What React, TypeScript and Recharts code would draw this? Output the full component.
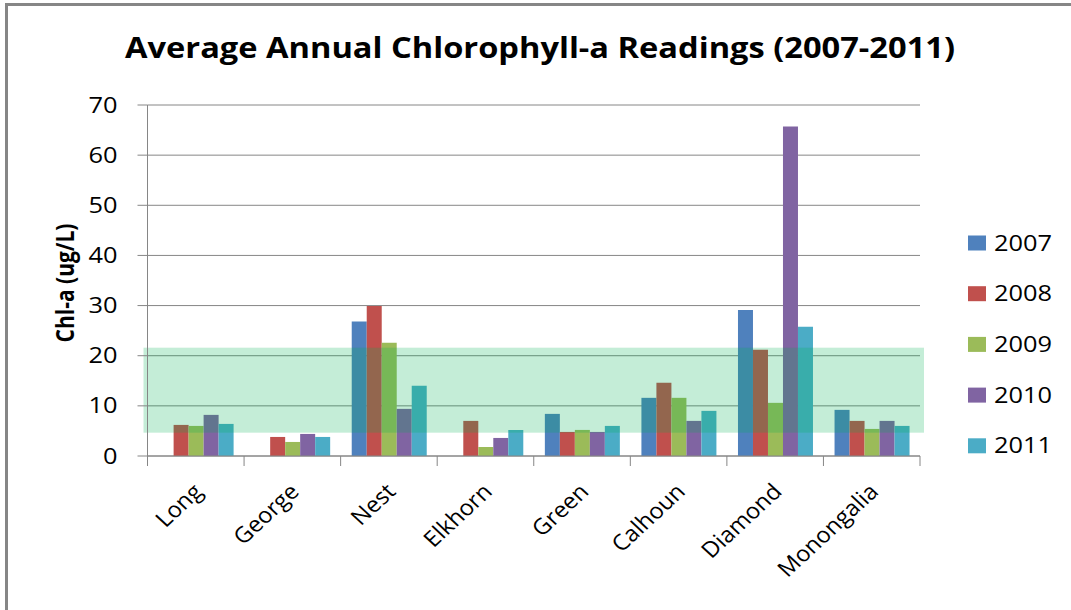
import {
  BarChart,
  Bar,
  XAxis,
  YAxis,
  CartesianGrid,
  ReferenceArea,
} from 'recharts'

const lakes = ['Long', 'George', 'Nest', 'Elkhorn', 'Green', 'Calhoun', 'Diamond', 'Monongalia']

const years = ['2007', '2008', '2009', '2010', '2011']

const chl2007 = [null, null, 26.8, null, 8.4, 11.6, 29.1, 9.2]
const chl2008 = [6.2, 3.8, 29.9, 7.0, 4.8, 14.6, 21.2, 7.0]
const chl2009 = [6.0, 2.8, 22.6, 1.8, 5.2, 11.6, 10.6, 5.4]
const chl2010 = [8.2, 4.4, 9.4, 3.6, 4.8, 7.0, 65.7, 7.0]
const chl2011 = [6.4, 3.8, 14.0, 5.2, 6.0, 9.0, 25.8, 6.0]

const yTicks = [0, 10, 20, 30, 40, 50, 60, 70]

// target range band (ug/L)
const bandLow = 4.65
const bandHigh = 21.6

const COLORS = ['#4F81BD', '#C0504D', '#9BBB59', '#8064A2', '#4BACC6']

const W = 1071
const H = 610
const PLOT_LEFT = 147.5
const PLOT_RIGHT = 920
const PLOT_TOP = 105
const PLOT_BOTTOM = 456
const X_AXIS_H = 60
const BAND = (PLOT_RIGHT - PLOT_LEFT) / lakes.length
const FONT = '"Open Sans", "DejaVu Sans", sans-serif'
const AXIS_GRAY = '#868686'
// the source image is a little stretched sideways
const STRETCH = 1.08
const DIGIT_W = 14.5

const seriesValues = [chl2007, chl2008, chl2009, chl2010, chl2011]

const chartData = lakes.map((lake, i) => {
  const row: Record<string, string | number | null> = { lake }
  years.forEach((y, s) => {
    row[y] = seriesValues[s][i]
  })
  return row
})

function LakeTick(props: any) {
  const { x, y, payload, index } = props
  const left = x - BAND / 2
  const ax = x + 8
  const ay = y + 37
  return (
    <g>
      <line x1={left} y1={y} x2={left} y2={y + 10} stroke={AXIS_GRAY} />
      {index === lakes.length - 1 && (
        <line x1={x + BAND / 2} y1={y} x2={x + BAND / 2} y2={y + 10} stroke={AXIS_GRAY} />
      )}
      <text
        x={0}
        y={0}
        textAnchor="end"
        transform={`translate(${ax}, ${ay}) scale(${STRETCH}, 1) rotate(-45)`}
        fontSize={22}
        fontFamily={FONT}
        fill="#000"
      >
        {payload.value}
      </text>
    </g>
  )
}

function ValueTick(props: any) {
  const { x, y, payload } = props
  const label = String(payload.value)
  return (
    <text
      x={x}
      y={y}
      dy="0.36em"
      textAnchor="end"
      fontSize={21}
      fontFamily={FONT}
      fill="#000"
      textLength={label.length * DIGIT_W}
      lengthAdjust="spacingAndGlyphs"
    >
      {label}
    </text>
  )
}

function Band(p: any) {
  return (
    <rect
      x={p.x - 4}
      y={p.y}
      width={p.width + 8}
      height={p.height}
      fill="#00B050"
      fillOpacity={0.23}
    />
  )
}

export default function App() {
  return (
    <div
      style={{
        position: 'fixed',
        left: 0,
        top: 0,
        width: W,
        height: H,
        overflow: 'hidden',
        background: '#fff',
      }}
    >
      {/* frame: only left and top edges are in view */}
      <div style={{ position: 'absolute', left: 5, top: 3, width: 3, height: H, background: AXIS_GRAY }} />
      <div style={{ position: 'absolute', left: 5, top: 3, width: W - 5, height: 3, background: AXIS_GRAY }} />

      <div style={{ position: 'absolute', left: 0, top: 0 }}>
        <BarChart
          width={W}
          height={H}
          data={chartData}
          margin={{
            top: PLOT_TOP,
            right: W - PLOT_RIGHT,
            bottom: H - PLOT_BOTTOM - X_AXIS_H,
            left: 0,
          }}
          barCategoryGap="11.5%"
          barGap={0}
        >
          <CartesianGrid vertical={false} stroke={AXIS_GRAY} strokeWidth={1} />
          <XAxis
            dataKey="lake"
            interval={0}
            axisLine={{ stroke: AXIS_GRAY }}
            tickLine={false}
            tickSize={0}
            tickMargin={0}
            tick={<LakeTick />}
            height={X_AXIS_H}
          />
          <YAxis
            width={PLOT_LEFT}
            domain={[0, 70]}
            ticks={yTicks}
            interval={0}
            axisLine={{ stroke: AXIS_GRAY }}
            tickLine={{ stroke: AXIS_GRAY }}
            tickSize={10}
            tickMargin={20}
            tick={<ValueTick />}
          />
          {years.map((y, i) => (
            <Bar key={y} dataKey={y} fill={COLORS[i]} isAnimationActive={false} />
          ))}
          <ReferenceArea
            y1={bandLow}
            y2={bandHigh}
            shape={<Band />}
            zIndex={350}
          />
        </BarChart>
      </div>

      <svg
        width={W}
        height={H}
        style={{ position: 'absolute', left: 0, top: 0, pointerEvents: 'none' }}
      >
        <text
          x={125}
          y={58}
          fontSize={28}
          fontWeight="bold"
          fontFamily={FONT}
          fill="#000"
          textLength={830}
          lengthAdjust="spacingAndGlyphs"
        >
          Average Annual Chlorophyll-a Readings (2007-2011)
        </text>
        <text
          x={0}
          y={0}
          dy="0.35em"
          transform="translate(65, 283) scale(1.18, 1) rotate(-90)"
          textAnchor="middle"
          fontSize={21}
          fontWeight="bold"
          fontFamily={FONT}
          fill="#000"
        >
          Chl-a (ug/L)
        </text>
        {years.map((y, i) => {
          const cy = 243 + i * 50.7
          return (
            <g key={y}>
              <rect x={968} y={cy - 7.5} width={18} height={15} fill={COLORS[i]} />
              <text
                x={994}
                y={cy + 7.5}
                fontSize={21}
                fontFamily={FONT}
                fill="#000"
                textLength={y.length * DIGIT_W}
                lengthAdjust="spacingAndGlyphs"
              >
                {y}
              </text>
            </g>
          )
        })}
      </svg>
    </div>
  )
}
